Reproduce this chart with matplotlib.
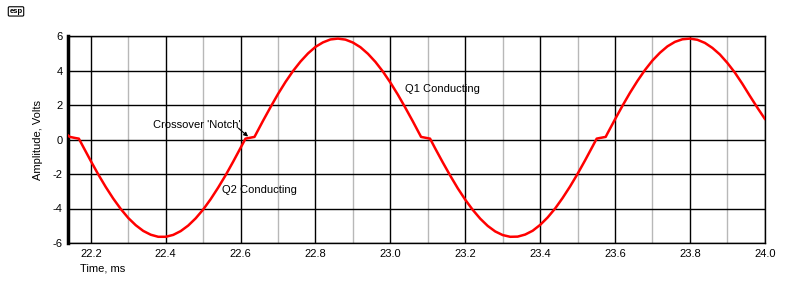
import matplotlib
matplotlib.use('Agg')
from matplotlib import pyplot as plt
from matplotlib.ticker import MultipleLocator, FixedLocator

plt.rcParams['font.family'] = ['Liberation Sans', 'DejaVu Sans']
plt.rcParams['axes.unicode_minus'] = False

# time (ms) and output amplitude (V)
time_ms = [22.14, 22.144, 22.16, 22.168, 22.18, 22.20, 22.22, 22.24, 22.26, 22.28,
           22.30, 22.32, 22.34, 22.36, 22.38, 22.40, 22.42, 22.44, 22.46, 22.48,
           22.50, 22.52, 22.54, 22.56, 22.58, 22.60, 22.613, 22.62, 22.637, 22.64,
           22.66, 22.68, 22.70, 22.72, 22.74, 22.76, 22.78, 22.80, 22.82, 22.84,
           22.86, 22.88, 22.90, 22.92, 22.94, 22.96, 22.98, 23.00, 23.02, 23.04,
           23.06, 23.08, 23.082, 23.10, 23.106, 23.12, 23.14, 23.16, 23.18, 23.20,
           23.22, 23.24, 23.26, 23.28, 23.30, 23.32, 23.34, 23.36, 23.38, 23.40,
           23.42, 23.44, 23.46, 23.48, 23.50, 23.52, 23.54, 23.551, 23.56, 23.575,
           23.58, 23.60, 23.62, 23.64, 23.66, 23.68, 23.70, 23.72, 23.74, 23.76,
           23.78, 23.80, 23.82, 23.84, 23.86, 23.88, 23.90, 23.92, 23.94, 23.96,
           23.98, 24.00]
amplitude = [0.22, 0.15, 0.08, 0.05, -0.44, -1.25, -2.03, -2.76, -3.43, -4.03,
             -4.55, -4.97, -5.30, -5.52, -5.64, -5.64, -5.53, -5.31, -4.99, -4.57,
             -4.06, -3.46, -2.79, -2.07, -1.29, -0.48, 0.05, 0.08, 0.15, 0.27,
             1.09, 1.88, 2.64, 3.34, 3.97, 4.52, 4.99, 5.37, 5.63, 5.80,
             5.85, 5.79, 5.62, 5.35, 4.97, 4.50, 3.94, 3.30, 2.60, 1.84,
             1.05, 0.23, 0.15, 0.075, 0.05, -0.53, -1.33, -2.10, -2.83, -3.49,
             -4.08, -4.59, -5.01, -5.33, -5.54, -5.64, -5.63, -5.51, -5.29, -4.95,
             -4.52, -4.00, -3.39, -2.72, -1.99, -1.21, -0.40, 0.05, 0.09, 0.15,
             0.36, 1.17, 1.96, 2.71, 3.40, 4.03, 4.58, 5.03, 5.40, 5.66,
             5.81, 5.85, 5.78, 5.60, 5.31, 4.93, 4.44, 3.88, 3.23, 2.53,
             1.85, 1.20]

x_ticks = [22.2, 22.4, 22.6, 22.8, 23.0, 23.2, 23.4, 23.6, 23.8, 24.0]
y_ticks = [-6, -4, -2, 0, 2, 4, 6]

fig = plt.figure(figsize=(8, 3), dpi=100)
ax = fig.add_axes([0.085, 0.19, 0.871, 0.69])

ax.plot(time_ms, amplitude, color='#ff0000', lw=1.8, zorder=3)

ax.set_xlim(22.139, 24.0)
ax.set_ylim(-6, 6)
ax.xaxis.set_major_locator(FixedLocator(x_ticks))
ax.xaxis.set_minor_locator(MultipleLocator(0.1))
ax.set_yticks(y_ticks)
ax.set_xticklabels(['%.1f' % v for v in x_ticks])
ax.set_yticklabels([str(v) for v in y_ticks])

ax.grid(which='minor', axis='x', color='#b8b8b8', lw=1)
ax.grid(which='major', axis='both', color='black', lw=1)
ax.set_axisbelow(True)
ax.tick_params(which='both', length=0, labelsize=8, pad=4)

for s in ax.spines.values():
    s.set_linewidth(1)
ax.spines['left'].set_linewidth(2.5)

ax.set_ylabel('Amplitude, Volts', fontsize=8, labelpad=7)
ax.text(0.017, -0.125, 'Time, ms', transform=ax.transAxes, fontsize=8, va='center')

ax.text(23.04, 2.9, 'Q1 Conducting', fontsize=8, va='center')
ax.text(22.55, -2.95, 'Q2 Conducting', fontsize=8, va='center')
ax.text(22.366, 0.85, "Crossover 'Notch'", fontsize=8, va='center')
ax.annotate('', xy=(22.62, 0.17), xytext=(22.594, 0.66),
            arrowprops=dict(arrowstyle='-|>', color='black', lw=0.8,
                            shrinkA=0, shrinkB=0, mutation_scale=6))

fig.text(0.02, 0.962, 'esp', fontsize=5.5, fontweight='bold', ha='center', va='center',
         bbox=dict(boxstyle='round,pad=0.15', fc='white', ec='black', lw=0.8))

fig.savefig('out.png', dpi=100)
